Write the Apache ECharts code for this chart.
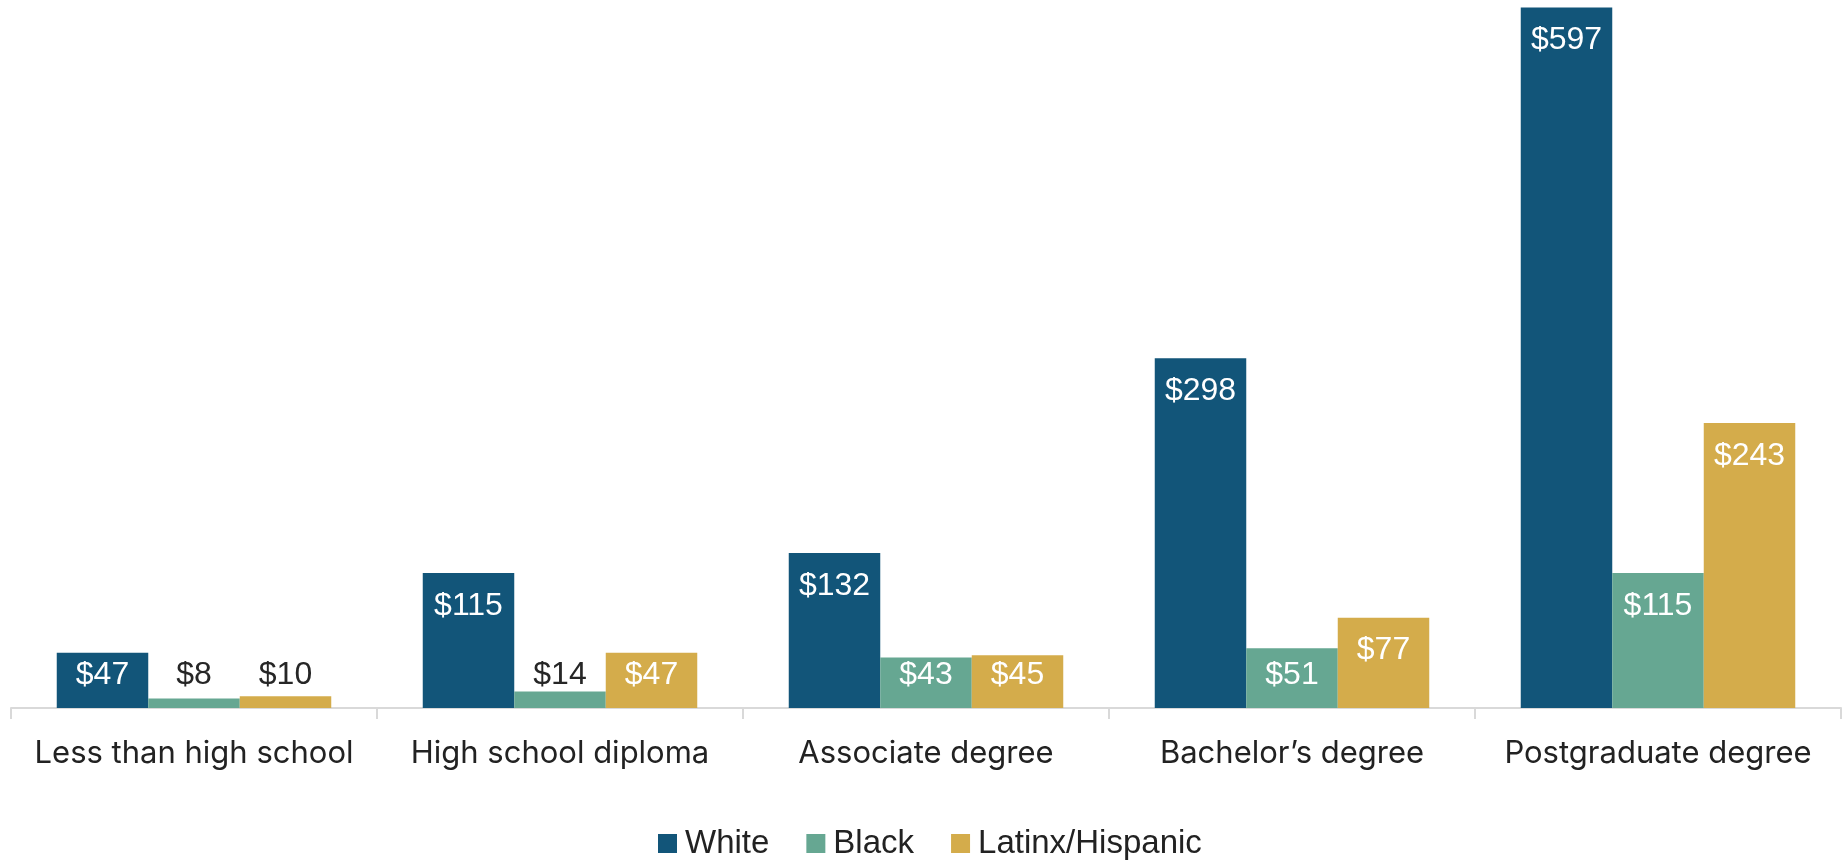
<!DOCTYPE html>
<html>
<head>
<meta charset="utf-8">
<title>Median wealth by education and race</title>
<script src="https://cdn.jsdelivr.net/npm/echarts@6/dist/echarts.min.js"></script>
<style>
  html, body { margin: 0; padding: 0; background: #ffffff; }
  #chart { width: 1843px; height: 860px; }
</style>
</head>
<body>
<div id="chart"></div>
<script>
// Education levels along the x axis
const categories = [
  'Less than high school',
  'High school diploma',
  'Associate degree',
  'Bachelor\u2019s degree',
  'Postgraduate degree'
];

// Values in thousands of dollars, one array per group
const white = [47, 115, 132, 298, 597];
const black = [8, 14, 43, 51, 115];
const latinx = [10, 47, 45, 77, 243];

const seriesNames = ['White', 'Black', 'Latinx/Hispanic'];
const seriesColors = ['#125579', '#66a792', '#d4ac4b'];

// Short bars get their label pinned a fixed distance above the axis;
// very short bars leave the label sitting on white, so it turns dark.
const PIN_BELOW = 55;
const DARK_BELOW = 30;

function toItems(values) {
  return values.map(v => ({
    value: v,
    label: {
      position: v >= PIN_BELOW ? 'insideTop' : 'insideBottom',
      color: v < DARK_BELOW ? '#262626' : '#ffffff'
    }
  }));
}

const labelFont = 'Liberation Sans, Arial, sans-serif';

const chart = echarts.init(document.getElementById('chart'), null, { renderer: 'canvas' });

chart.setOption({
  animation: false,
  backgroundColor: '#ffffff',
  grid: { left: 11, right: 2, top: 4, bottom: 152, containLabel: false },
  legend: {
    bottom: 0,
    left: 658,
    padding: 0,
    itemWidth: 19,
    itemHeight: 19,
    itemGap: 37,
    icon: 'rect',
    textStyle: { fontFamily: labelFont, fontSize: 33, color: '#222222', padding: [0, 0, 0, 3] },
    data: seriesNames
  },
  xAxis: {
    type: 'category',
    data: categories,
    axisLine: { show: true, lineStyle: { color: '#d9d9d9', width: 2 } },
    axisTick: { show: true, interval: 0, length: 11, lineStyle: { color: '#d9d9d9', width: 2 } },
    axisLabel: { interval: 0, fontFamily: 'Inter, sans-serif', fontSize: 31, color: '#222222', margin: 30 }
  },
  yAxis: {
    type: 'value',
    min: 0,
    max: 600,
    show: false,
    splitLine: { show: false }
  },
  series: [white, black, latinx].map((vals, i) => ({
    name: seriesNames[i],
    type: 'bar',
    data: toItems(vals),
    barGap: '0%',
    barCategoryGap: '25%',
    itemStyle: { color: seriesColors[i] },
    label: {
      show: true,
      distance: 17,
      fontFamily: labelFont,
      fontSize: 32,
      formatter: p => '$' + p.value
    }
  }))
});
</script>
</body>
</html>
